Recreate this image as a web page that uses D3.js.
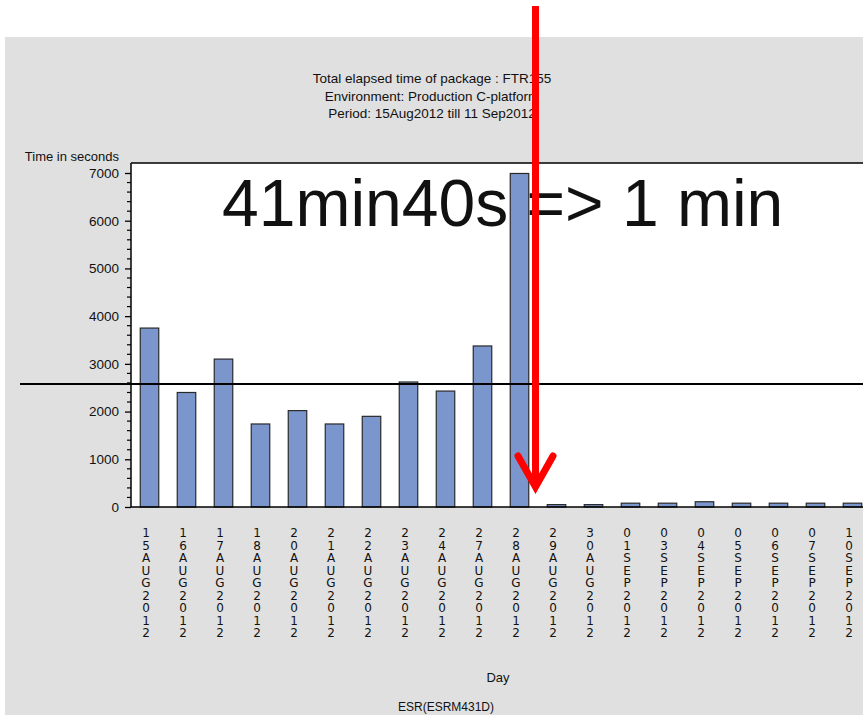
<!DOCTYPE html>
<html><head><meta charset="utf-8">
<script src="https://cdn.jsdelivr.net/npm/d3@7/dist/d3.min.js"></script>
<style>
body{margin:0;background:#fff;}
svg{display:block;}
text{font-family:"Liberation Sans",Arial,sans-serif;fill:#111;}
</style>
</head><body>
<svg id="c" width="863" height="715"></svg>
<script>
const categories = ["15AUG2012","16AUG2012","17AUG2012","18AUG2012","20AUG2012","21AUG2012","22AUG2012","23AUG2012","24AUG2012","27AUG2012","28AUG2012","29AUG2012","30AUG2012","01SEP2012","03SEP2012","04SEP2012","05SEP2012","06SEP2012","07SEP2012","10SEP2012"];
const seconds = [3750,2400,3100,1740,2020,1740,1900,2620,2430,3375,6990,50,50,80,80,110,80,80,80,80];
const yTicks = [0,1000,2000,3000,4000,5000,6000,7000];
const yMinorStep = 200;
const referenceValue = 2580;
const titleLines = ["Total elapsed time of package :  FTR155","Environment: Production C-platform","Period: 15Aug2012 till 11 Sep2012"];
const yAxisLabel = "Time in seconds";
const xAxisLabel = "Day";
const footnote = "ESR(ESRM431D)";
const annotation = "41min40s => 1 min";

const svg = d3.select("#c");
const W = 863, H = 715;
const plot = {left:131, top:163, right:863, bottom:507};

// panel background
svg.append("rect").attr("x",5).attr("y",37).attr("width",W-5).attr("height",H-37).attr("fill","#e0e0e0");

// plot area
svg.append("rect").attr("x",plot.left).attr("y",plot.top).attr("width",plot.right-plot.left+5).attr("height",plot.bottom-plot.top).attr("fill","#fff");

const y = d3.scaleLinear().domain([0,7000]).range([507,173]);
const x = d3.scaleBand().domain(categories).range([plot.left, plot.left + 20*37]).paddingInner(0.5).paddingOuter(0.25);

// titles
svg.append("g").selectAll("text").data(titleLines).join("text")
  .attr("x",432).attr("y",(d,i)=>83+i*17.5).attr("text-anchor","middle")
  .style("font-size","13.5px").attr("fill","#222").text(d=>d);

// bars
svg.append("g").selectAll("rect").data(categories).join("rect")
  .attr("x",d=>x(d)).attr("width",x.bandwidth())
  .attr("y",(d,i)=>y(seconds[i])).attr("height",(d,i)=>y(0)-y(seconds[i]))
  .attr("fill","#7b96cc").attr("stroke","#2a2a2a").attr("stroke-width",1.2);

// frame top line
svg.append("line").attr("x1",plot.left).attr("x2",W).attr("y1",plot.top).attr("y2",plot.top).attr("stroke","#000").attr("stroke-width",1.5);

// y axis
const yAxis = d3.axisLeft(y).tickValues(yTicks).tickSize(6).tickPadding(6).tickFormat(d3.format("d"));
const gy = svg.append("g").attr("transform",`translate(${plot.left},0)`).call(yAxis);
gy.select(".domain").remove();
gy.selectAll("text").style("font-size","13.5px").style("font-family","'Liberation Sans',Arial,sans-serif").attr("fill","#111");
gy.selectAll("line").attr("stroke","#000").attr("stroke-width",1.3);
const minor = d3.range(0,7001,yMinorStep).filter(v=>v%1000!==0);
svg.append("g").selectAll("line").data(minor).join("line")
  .attr("x1",plot.left-4).attr("x2",plot.left).attr("y1",d=>y(d)).attr("y2",d=>y(d))
  .attr("stroke","#000").attr("stroke-width",1.2);
svg.append("line").attr("x1",plot.left).attr("x2",plot.left).attr("y1",plot.top).attr("y2",plot.bottom).attr("stroke","#000").attr("stroke-width",1.5);
svg.append("line").attr("x1",plot.left).attr("x2",W).attr("y1",plot.bottom).attr("y2",plot.bottom).attr("stroke","#000").attr("stroke-width",1.5);

svg.append("text").attr("x",119).attr("y",161).attr("text-anchor","end").style("font-size","13px").text(yAxisLabel);

// x labels (stacked vertical chars)
const gx = svg.append("g");
categories.forEach(c=>{
  const t = gx.append("text").attr("text-anchor","middle")
    .style("font-family","'DejaVu Sans',sans-serif").style("font-size","12px").attr("fill","#1a1a1a");
  c.split("").forEach((ch,i)=>{
    t.append("tspan").attr("x",x(c)+x.bandwidth()/2-3.5).attr("y",537+i*12.5).text(ch);
  });
});

svg.append("text").attr("x",498).attr("y",682).attr("text-anchor","middle").style("font-size","13px").text(xAxisLabel);
svg.append("text").attr("x",446).attr("y",711).attr("text-anchor","middle").style("font-size","12px").text(footnote);

// reference line
svg.append("line").attr("x1",20).attr("x2",W).attr("y1",y(referenceValue)).attr("y2",y(referenceValue)).attr("stroke","#000").attr("stroke-width",2);

// annotation
svg.append("text").attr("x",222).attr("y",226).style("font-size","66px").style("font-family","'Liberation Sans',Arial,sans-serif").attr("fill","#000").text(annotation);

// red arrow
const red = svg.append("g").attr("stroke","#ff0000").attr("stroke-width",7).attr("fill","none");
red.append("line").attr("x1",535.5).attr("x2",535.5).attr("y1",6).attr("y2",486);
red.append("path").attr("d","M518,456 L535.5,487 L553,456").attr("stroke-linecap","round").attr("stroke-linejoin","miter");
</script>
</body></html>
